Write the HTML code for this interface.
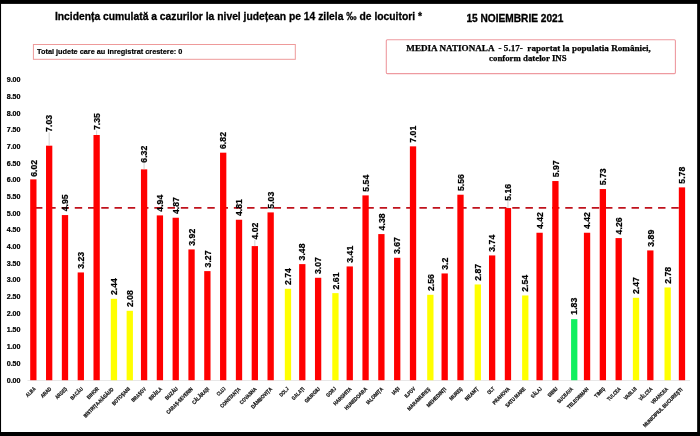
<!DOCTYPE html>
<html lang="ro"><head><meta charset="utf-8"><title>Incidența cumulată a cazurilor</title>
<style>
html,body{margin:0;padding:0;background:#fff;}
body{width:700px;height:436px;overflow:hidden;}
svg{display:block;will-change:transform;}
text{font-family:"Liberation Sans",sans-serif;font-weight:bold;fill:#000;}
.s{font-family:"Liberation Serif",serif;font-weight:bold;stroke:#000;stroke-width:0.25px;}
.v{font-size:8.6px;stroke:#000;stroke-width:0.22px;}
.c{font-size:5.4px;fill:#111;stroke:#111;stroke-width:0.22px;}
.a{font-size:6.8px;stroke:#000;stroke-width:0.22px;}
</style></head><body>
<svg width="700" height="436" viewBox="0 0 700 436">
<rect x="0" y="0" width="700" height="436" fill="#fff"/>

<line x1="27.5" y1="380.5" x2="690" y2="380.5" stroke="#e2e2e2" stroke-width="0.8"/>
<line x1="35.0" y1="207.85" x2="683" y2="207.85" stroke="#c0121c" stroke-width="1.9" stroke-dasharray="7.4 5.857"/>
<rect x="30.20" y="179.37" width="6.30" height="200.83" fill="#ff0000"/>
<rect x="46.02" y="145.68" width="6.30" height="234.52" fill="#ff0000"/>
<rect x="61.84" y="215.07" width="6.30" height="165.13" fill="#ff0000"/>
<rect x="77.66" y="272.45" width="6.30" height="107.75" fill="#ff0000"/>
<rect x="93.48" y="135.00" width="6.30" height="245.20" fill="#ff0000"/>
<rect x="110.80" y="298.80" width="6.30" height="81.40" fill="#ffff00"/>
<rect x="126.62" y="310.81" width="6.30" height="69.39" fill="#ffff00"/>
<rect x="140.94" y="169.36" width="6.30" height="210.84" fill="#ff0000"/>
<rect x="156.76" y="215.40" width="6.30" height="164.80" fill="#ff0000"/>
<rect x="172.58" y="217.74" width="6.30" height="162.46" fill="#ff0000"/>
<rect x="188.40" y="249.43" width="6.30" height="130.77" fill="#ff0000"/>
<rect x="204.22" y="271.11" width="6.30" height="109.09" fill="#ff0000"/>
<rect x="220.04" y="152.68" width="6.30" height="227.52" fill="#ff0000"/>
<rect x="235.86" y="219.74" width="6.30" height="160.46" fill="#ff0000"/>
<rect x="251.68" y="246.09" width="6.30" height="134.11" fill="#ff0000"/>
<rect x="267.50" y="212.40" width="6.30" height="167.80" fill="#ff0000"/>
<rect x="284.82" y="288.79" width="6.30" height="91.41" fill="#ffff00"/>
<rect x="299.14" y="264.11" width="6.30" height="116.09" fill="#ff0000"/>
<rect x="314.96" y="277.78" width="6.30" height="102.42" fill="#ff0000"/>
<rect x="332.28" y="293.13" width="6.30" height="87.07" fill="#ffff00"/>
<rect x="346.60" y="266.44" width="6.30" height="113.76" fill="#ff0000"/>
<rect x="362.42" y="195.39" width="6.30" height="184.81" fill="#ff0000"/>
<rect x="378.24" y="234.08" width="6.30" height="146.12" fill="#ff0000"/>
<rect x="394.06" y="257.77" width="6.30" height="122.43" fill="#ff0000"/>
<rect x="409.88" y="146.35" width="6.30" height="233.85" fill="#ff0000"/>
<rect x="427.20" y="294.80" width="6.30" height="85.40" fill="#ffff00"/>
<rect x="441.52" y="273.45" width="6.30" height="106.75" fill="#ff0000"/>
<rect x="457.34" y="194.72" width="6.30" height="185.48" fill="#ff0000"/>
<rect x="474.66" y="284.46" width="6.30" height="95.74" fill="#ffff00"/>
<rect x="488.98" y="255.43" width="6.30" height="124.77" fill="#ff0000"/>
<rect x="504.80" y="208.06" width="6.30" height="172.14" fill="#ff0000"/>
<rect x="522.12" y="295.47" width="6.30" height="84.73" fill="#ffff00"/>
<rect x="536.44" y="232.75" width="6.30" height="147.45" fill="#ff0000"/>
<rect x="552.26" y="181.04" width="6.30" height="199.16" fill="#ff0000"/>
<rect x="571.08" y="319.15" width="6.30" height="61.05" fill="#10f060"/>
<rect x="583.90" y="232.75" width="6.30" height="147.45" fill="#ff0000"/>
<rect x="599.72" y="189.05" width="6.30" height="191.15" fill="#ff0000"/>
<rect x="615.54" y="238.09" width="6.30" height="142.11" fill="#ff0000"/>
<rect x="632.86" y="297.80" width="6.30" height="82.40" fill="#ffff00"/>
<rect x="647.18" y="250.43" width="6.30" height="129.77" fill="#ff0000"/>
<rect x="664.50" y="287.46" width="6.30" height="92.74" fill="#ffff00"/>
<rect x="678.82" y="187.38" width="6.30" height="192.82" fill="#ff0000"/>
<line x1="49.17" y1="132.38" x2="49.17" y2="145.68" stroke="#bdbdbd" stroke-width="0.7"/>
<line x1="96.63" y1="130.50" x2="96.63" y2="135.00" stroke="#bdbdbd" stroke-width="0.7"/>
<line x1="144.09" y1="163.16" x2="144.09" y2="169.36" stroke="#bdbdbd" stroke-width="0.7"/>
<line x1="254.83" y1="240.09" x2="254.83" y2="246.09" stroke="#bdbdbd" stroke-width="0.7"/>
<line x1="507.95" y1="201.26" x2="507.95" y2="208.06" stroke="#bdbdbd" stroke-width="0.7"/>
<text class="v" transform="translate(36.55,176.77) rotate(-90)" textLength="16.98" lengthAdjust="spacingAndGlyphs">6.02</text>
<text class="v" transform="translate(52.37,131.88) rotate(-90)" textLength="16.98" lengthAdjust="spacingAndGlyphs">7.03</text>
<text class="v" transform="translate(68.19,211.37) rotate(-90)" textLength="16.98" lengthAdjust="spacingAndGlyphs">4.95</text>
<text class="v" transform="translate(84.01,268.75) rotate(-90)" textLength="16.98" lengthAdjust="spacingAndGlyphs">3.23</text>
<text class="v" transform="translate(99.83,130.00) rotate(-90)" textLength="16.98" lengthAdjust="spacingAndGlyphs">7.35</text>
<text class="v" transform="translate(117.15,295.10) rotate(-90)" textLength="16.98" lengthAdjust="spacingAndGlyphs">2.44</text>
<text class="v" transform="translate(132.97,307.11) rotate(-90)" textLength="16.98" lengthAdjust="spacingAndGlyphs">2.08</text>
<text class="v" transform="translate(147.29,162.66) rotate(-90)" textLength="16.98" lengthAdjust="spacingAndGlyphs">6.32</text>
<text class="v" transform="translate(163.11,211.70) rotate(-90)" textLength="16.98" lengthAdjust="spacingAndGlyphs">4.94</text>
<text class="v" transform="translate(178.93,214.04) rotate(-90)" textLength="16.98" lengthAdjust="spacingAndGlyphs">4.87</text>
<text class="v" transform="translate(194.75,245.73) rotate(-90)" textLength="16.98" lengthAdjust="spacingAndGlyphs">3.92</text>
<text class="v" transform="translate(210.57,267.41) rotate(-90)" textLength="16.98" lengthAdjust="spacingAndGlyphs">3.27</text>
<text class="v" transform="translate(226.39,148.98) rotate(-90)" textLength="16.98" lengthAdjust="spacingAndGlyphs">6.82</text>
<text class="v" transform="translate(242.21,216.04) rotate(-90)" textLength="16.98" lengthAdjust="spacingAndGlyphs">4.81</text>
<text class="v" transform="translate(258.03,239.59) rotate(-90)" textLength="16.98" lengthAdjust="spacingAndGlyphs">4.02</text>
<text class="v" transform="translate(273.85,208.70) rotate(-90)" textLength="16.98" lengthAdjust="spacingAndGlyphs">5.03</text>
<text class="v" transform="translate(291.17,285.09) rotate(-90)" textLength="16.98" lengthAdjust="spacingAndGlyphs">2.74</text>
<text class="v" transform="translate(305.49,260.41) rotate(-90)" textLength="16.98" lengthAdjust="spacingAndGlyphs">3.48</text>
<text class="v" transform="translate(321.31,274.08) rotate(-90)" textLength="16.98" lengthAdjust="spacingAndGlyphs">3.07</text>
<text class="v" transform="translate(338.63,289.43) rotate(-90)" textLength="16.98" lengthAdjust="spacingAndGlyphs">2.61</text>
<text class="v" transform="translate(352.95,262.74) rotate(-90)" textLength="16.98" lengthAdjust="spacingAndGlyphs">3.41</text>
<text class="v" transform="translate(368.77,191.69) rotate(-90)" textLength="16.98" lengthAdjust="spacingAndGlyphs">5.54</text>
<text class="v" transform="translate(384.59,230.38) rotate(-90)" textLength="16.98" lengthAdjust="spacingAndGlyphs">4.38</text>
<text class="v" transform="translate(400.41,254.07) rotate(-90)" textLength="16.98" lengthAdjust="spacingAndGlyphs">3.67</text>
<text class="v" transform="translate(416.23,142.65) rotate(-90)" textLength="16.98" lengthAdjust="spacingAndGlyphs">7.01</text>
<text class="v" transform="translate(433.55,291.10) rotate(-90)" textLength="16.98" lengthAdjust="spacingAndGlyphs">2.56</text>
<text class="v" transform="translate(447.87,269.75) rotate(-90)" textLength="12.17" lengthAdjust="spacingAndGlyphs">3.2</text>
<text class="v" transform="translate(463.69,191.02) rotate(-90)" textLength="16.98" lengthAdjust="spacingAndGlyphs">5.56</text>
<text class="v" transform="translate(481.01,280.76) rotate(-90)" textLength="16.98" lengthAdjust="spacingAndGlyphs">2.87</text>
<text class="v" transform="translate(495.33,251.73) rotate(-90)" textLength="16.98" lengthAdjust="spacingAndGlyphs">3.74</text>
<text class="v" transform="translate(511.15,200.76) rotate(-90)" textLength="16.98" lengthAdjust="spacingAndGlyphs">5.16</text>
<text class="v" transform="translate(528.47,291.77) rotate(-90)" textLength="16.98" lengthAdjust="spacingAndGlyphs">2.54</text>
<text class="v" transform="translate(542.79,229.05) rotate(-90)" textLength="16.98" lengthAdjust="spacingAndGlyphs">4.42</text>
<text class="v" transform="translate(558.61,177.34) rotate(-90)" textLength="16.98" lengthAdjust="spacingAndGlyphs">5.97</text>
<text class="v" transform="translate(577.43,314.65) rotate(-90)" textLength="16.98" lengthAdjust="spacingAndGlyphs">1.83</text>
<text class="v" transform="translate(590.25,229.05) rotate(-90)" textLength="16.98" lengthAdjust="spacingAndGlyphs">4.42</text>
<text class="v" transform="translate(606.07,185.35) rotate(-90)" textLength="16.98" lengthAdjust="spacingAndGlyphs">5.73</text>
<text class="v" transform="translate(621.89,234.39) rotate(-90)" textLength="16.98" lengthAdjust="spacingAndGlyphs">4.26</text>
<text class="v" transform="translate(639.21,294.10) rotate(-90)" textLength="16.98" lengthAdjust="spacingAndGlyphs">2.47</text>
<text class="v" transform="translate(653.53,246.73) rotate(-90)" textLength="16.98" lengthAdjust="spacingAndGlyphs">3.89</text>
<text class="v" transform="translate(670.85,283.76) rotate(-90)" textLength="16.98" lengthAdjust="spacingAndGlyphs">2.78</text>
<text class="v" transform="translate(685.17,183.68) rotate(-90)" textLength="16.98" lengthAdjust="spacingAndGlyphs">5.78</text>
<text class="a" x="6.7" y="382.50" textLength="13.85" lengthAdjust="spacingAndGlyphs">0.00</text>
<text class="a" x="6.7" y="365.82" textLength="13.85" lengthAdjust="spacingAndGlyphs">0.50</text>
<text class="a" x="6.7" y="349.14" textLength="13.85" lengthAdjust="spacingAndGlyphs">1.00</text>
<text class="a" x="6.7" y="332.46" textLength="13.85" lengthAdjust="spacingAndGlyphs">1.50</text>
<text class="a" x="6.7" y="315.78" textLength="13.85" lengthAdjust="spacingAndGlyphs">2.00</text>
<text class="a" x="6.7" y="299.10" textLength="13.85" lengthAdjust="spacingAndGlyphs">2.50</text>
<text class="a" x="6.7" y="282.42" textLength="13.85" lengthAdjust="spacingAndGlyphs">3.00</text>
<text class="a" x="6.7" y="265.74" textLength="13.85" lengthAdjust="spacingAndGlyphs">3.50</text>
<text class="a" x="6.7" y="249.06" textLength="13.85" lengthAdjust="spacingAndGlyphs">4.00</text>
<text class="a" x="6.7" y="232.38" textLength="13.85" lengthAdjust="spacingAndGlyphs">4.50</text>
<text class="a" x="6.7" y="215.70" textLength="13.85" lengthAdjust="spacingAndGlyphs">5.00</text>
<text class="a" x="6.7" y="199.02" textLength="13.85" lengthAdjust="spacingAndGlyphs">5.50</text>
<text class="a" x="6.7" y="182.34" textLength="13.85" lengthAdjust="spacingAndGlyphs">6.00</text>
<text class="a" x="6.7" y="165.66" textLength="13.85" lengthAdjust="spacingAndGlyphs">6.50</text>
<text class="a" x="6.7" y="148.98" textLength="13.85" lengthAdjust="spacingAndGlyphs">7.00</text>
<text class="a" x="6.7" y="132.30" textLength="13.85" lengthAdjust="spacingAndGlyphs">7.50</text>
<text class="a" x="6.7" y="115.62" textLength="13.85" lengthAdjust="spacingAndGlyphs">8.00</text>
<text class="a" x="6.7" y="98.94" textLength="13.85" lengthAdjust="spacingAndGlyphs">8.50</text>
<text class="a" x="6.7" y="82.26" textLength="13.85" lengthAdjust="spacingAndGlyphs">9.00</text>
<text class="c" transform="translate(36.03,389.23) rotate(-45)" x="-11.58" textLength="11.58" lengthAdjust="spacingAndGlyphs">ALBA</text>
<text class="c" transform="translate(51.80,389.25) rotate(-45)" x="-12.75" textLength="12.75" lengthAdjust="spacingAndGlyphs">ARAD</text>
<text class="c" transform="translate(67.53,389.29) rotate(-45)" x="-14.57" textLength="14.57" lengthAdjust="spacingAndGlyphs">ARGEȘ</text>
<text class="c" transform="translate(83.31,389.31) rotate(-45)" x="-15.45" textLength="15.45" lengthAdjust="spacingAndGlyphs">BACĂU</text>
<text class="c" transform="translate(99.19,389.29) rotate(-45)" x="-14.30" textLength="14.30" lengthAdjust="spacingAndGlyphs">BIHOR</text>
<text class="c" transform="translate(113.85,389.80) rotate(-45)" x="-39.90" textLength="39.90" lengthAdjust="spacingAndGlyphs">BISTRIȚA-NĂSĂUD</text>
<text class="c" transform="translate(130.43,389.46) rotate(-45)" x="-23.06" textLength="23.06" lengthAdjust="spacingAndGlyphs">BOTOȘANI</text>
<text class="c" transform="translate(146.47,389.37) rotate(-45)" x="-18.30" textLength="18.30" lengthAdjust="spacingAndGlyphs">BRAȘOV</text>
<text class="c" transform="translate(162.39,389.32) rotate(-45)" x="-16.03" textLength="16.03" lengthAdjust="spacingAndGlyphs">BRĂILA</text>
<text class="c" transform="translate(178.23,389.31) rotate(-45)" x="-15.51" textLength="15.51" lengthAdjust="spacingAndGlyphs">BUZĂU</text>
<text class="c" transform="translate(193.17,389.70) rotate(-45)" x="-35.02" textLength="35.02" lengthAdjust="spacingAndGlyphs">CARAȘ-SEVERIN</text>
<text class="c" transform="translate(209.60,389.43) rotate(-45)" x="-21.58" textLength="21.58" lengthAdjust="spacingAndGlyphs">CĂLĂRAȘI</text>
<text class="c" transform="translate(225.94,389.20) rotate(-45)" x="-10.05" textLength="10.05" lengthAdjust="spacingAndGlyphs">CLUJ</text>
<text class="c" transform="translate(241.01,389.53) rotate(-45)" x="-26.62" textLength="26.62" lengthAdjust="spacingAndGlyphs">CONSTANȚA</text>
<text class="c" transform="translate(257.06,389.43) rotate(-45)" x="-21.53" textLength="21.53" lengthAdjust="spacingAndGlyphs">COVASNA</text>
<text class="c" transform="translate(272.61,389.55) rotate(-45)" x="-27.49" textLength="27.49" lengthAdjust="spacingAndGlyphs">DÂMBOVIȚA</text>
<text class="c" transform="translate(289.17,389.22) rotate(-45)" x="-11.01" textLength="11.01" lengthAdjust="spacingAndGlyphs">DOLJ</text>
<text class="c" transform="translate(304.79,389.31) rotate(-45)" x="-15.66" textLength="15.66" lengthAdjust="spacingAndGlyphs">GALAȚI</text>
<text class="c" transform="translate(320.44,389.39) rotate(-45)" x="-19.44" textLength="19.44" lengthAdjust="spacingAndGlyphs">GIURGIU</text>
<text class="c" transform="translate(336.60,389.23) rotate(-45)" x="-11.70" textLength="11.70" lengthAdjust="spacingAndGlyphs">GORJ</text>
<text class="c" transform="translate(351.91,389.46) rotate(-45)" x="-23.05" textLength="23.05" lengthAdjust="spacingAndGlyphs">HARGHITA</text>
<text class="c" transform="translate(367.46,389.58) rotate(-45)" x="-29.14" textLength="29.14" lengthAdjust="spacingAndGlyphs">HUNEDOARA</text>
<text class="c" transform="translate(383.61,389.44) rotate(-45)" x="-21.82" textLength="21.82" lengthAdjust="spacingAndGlyphs">IALOMIȚA</text>
<text class="c" transform="translate(400.03,389.17) rotate(-45)" x="-8.54" textLength="8.54" lengthAdjust="spacingAndGlyphs">IAȘI</text>
<text class="c" transform="translate(415.66,389.25) rotate(-45)" x="-12.68" textLength="12.68" lengthAdjust="spacingAndGlyphs">ILFOV</text>
<text class="c" transform="translate(430.69,389.60) rotate(-45)" x="-30.15" textLength="30.15" lengthAdjust="spacingAndGlyphs">MARAMUREȘ</text>
<text class="c" transform="translate(446.73,389.51) rotate(-45)" x="-25.43" textLength="25.43" lengthAdjust="spacingAndGlyphs">MEHEDINȚI</text>
<text class="c" transform="translate(462.96,389.32) rotate(-45)" x="-16.11" textLength="16.11" lengthAdjust="spacingAndGlyphs">MUREȘ</text>
<text class="c" transform="translate(478.77,389.33) rotate(-45)" x="-16.48" textLength="16.48" lengthAdjust="spacingAndGlyphs">NEAMȚ</text>
<text class="c" transform="translate(494.97,389.16) rotate(-45)" x="-8.06" textLength="8.06" lengthAdjust="spacingAndGlyphs">OLT</text>
<text class="c" transform="translate(510.16,389.44) rotate(-45)" x="-21.92" textLength="21.92" lengthAdjust="spacingAndGlyphs">PRAHOVA</text>
<text class="c" transform="translate(525.80,389.52) rotate(-45)" x="-25.93" textLength="25.93" lengthAdjust="spacingAndGlyphs">SATU MARE</text>
<text class="c" transform="translate(542.21,389.26) rotate(-45)" x="-12.93" textLength="12.93" lengthAdjust="spacingAndGlyphs">SĂLAJ</text>
<text class="c" transform="translate(558.08,389.24) rotate(-45)" x="-11.76" textLength="11.76" lengthAdjust="spacingAndGlyphs">SIBIU</text>
<text class="c" transform="translate(573.52,389.41) rotate(-45)" x="-20.29" textLength="20.29" lengthAdjust="spacingAndGlyphs">SUCEAVA</text>
<text class="c" transform="translate(589.00,389.56) rotate(-45)" x="-27.85" textLength="27.85" lengthAdjust="spacingAndGlyphs">TELEORMAN</text>
<text class="c" transform="translate(605.50,389.25) rotate(-45)" x="-12.59" textLength="12.59" lengthAdjust="spacingAndGlyphs">TIMIȘ</text>
<text class="c" transform="translate(621.13,389.34) rotate(-45)" x="-16.80" textLength="16.80" lengthAdjust="spacingAndGlyphs">TULCEA</text>
<text class="c" transform="translate(637.01,389.31) rotate(-45)" x="-15.55" textLength="15.55" lengthAdjust="spacingAndGlyphs">VASLUI</text>
<text class="c" transform="translate(652.77,389.34) rotate(-45)" x="-16.78" textLength="16.78" lengthAdjust="spacingAndGlyphs">VÂLCEA</text>
<text class="c" transform="translate(668.39,389.43) rotate(-45)" x="-21.36" textLength="21.36" lengthAdjust="spacingAndGlyphs">VRANCEA</text>
<text class="c" transform="translate(682.78,390.06) rotate(-45)" x="-53.05" textLength="53.05" lengthAdjust="spacingAndGlyphs">MUNICIPIUL BUCUREȘTI</text>
<text x="54.9" y="20.3" font-size="10.9" stroke="#000" stroke-width="0.3" textLength="367.1" lengthAdjust="spacingAndGlyphs">Incidența cumulată a cazurilor la nivel județean pe 14 zilela ‰ de locuitori *</text>
<text x="466.4" y="22" font-size="10.4" stroke="#000" stroke-width="0.3" textLength="97" lengthAdjust="spacingAndGlyphs">15 NOIEMBRIE 2021</text>
<rect x="33.4" y="44.5" width="261.9" height="14.8" fill="#fff" stroke="#ee9a9a" stroke-width="1"/>
<text x="37.1" y="54" font-size="7.6" stroke="#000" stroke-width="0.2" textLength="145.2" lengthAdjust="spacingAndGlyphs">Total judete care au inregistrat crestere: 0</text>
<rect x="386.3" y="39.7" width="289.1" height="33.9" rx="1" fill="#fff" stroke="#ee9aa0" stroke-width="1.1"/>
<text class="s" x="406.3" y="50.6" font-size="9.15" textLength="244.6" lengthAdjust="spacingAndGlyphs" xml:space="preserve">MEDIA NATIONALA  - 5.17-  raportat la populatia României,</text>
<text class="s" x="489.1" y="60.9" font-size="9.15" textLength="77.5" lengthAdjust="spacingAndGlyphs">conform datelor INS</text>
<rect x="0" y="0" width="700" height="3.9" fill="#000"/>
<rect x="0" y="0" width="1.05" height="436" fill="#000"/>
<rect x="697.15" y="0" width="2.85" height="436" fill="#000"/>
<rect x="0" y="432" width="700" height="4" fill="#000"/>
</svg></body></html>
